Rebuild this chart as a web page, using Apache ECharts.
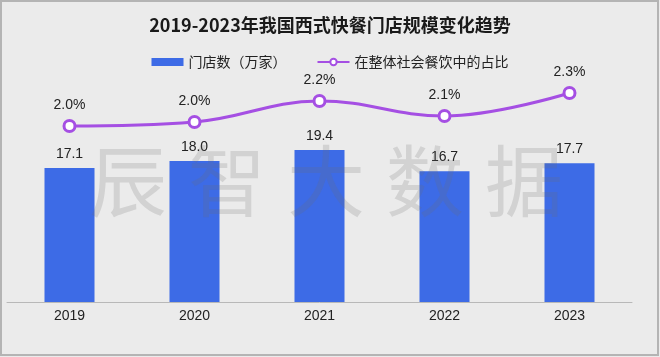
<!DOCTYPE html>
<html>
<head>
<meta charset="utf-8">
<script src="https://cdn.jsdelivr.net/npm/echarts@6/dist/echarts.min.js"></script>
<style>
html,body{margin:0;padding:0;background:#ebebeb;}
#c{width:660px;height:357px;}
</style>
</head>
<body>
<div id="c"></div>
<script>
var years = ['2019', '2020', '2021', '2022', '2023'];
var storeCounts = [17.1, 18.0, 19.4, 16.7, 17.7];
var shareValues = [1.96, 2.00, 2.21, 2.06, 2.29];
var titleText = '2019-2023年我国西式快餐门店规模变化趋势';
var barName = '门店数（万家）';
var lineName = '在整体社会餐饮中的占比';
var watermarkChars = ['辰', '智', '大', '数', '据'];

var chart = echarts.init(document.getElementById('c'), null, {renderer: 'canvas'});
var FONT = '"Noto Sans CJK SC", "Noto Sans", sans-serif';

var graphics = [{
  type: 'rect',
  shape: {x: 1, y: 1, width: 657, height: 354},
  style: {fill: 'none', stroke: '#b4b4b4', lineWidth: 2},
  z: 100,
  silent: true
}];
watermarkChars.forEach(function (ch, i) {
  graphics.push({
    type: 'text',
    x: 128 + 99 * i,
    y: 181,
    style: {
      text: ch,
      fill: 'rgba(110,110,110,0.2)',
      font: '78px ' + FONT,
      align: 'center',
      verticalAlign: 'middle'
    },
    z: 50,
    silent: true
  });
});

chart.setOption({
  backgroundColor: '#ebebeb',
  animation: false,
  title: {
    text: titleText,
    left: 'center',
    top: 11,
    textStyle: {fontSize: 18, fontWeight: 'bold', color: '#1a1a1a', fontFamily: FONT}
  },
  legend: {
    top: 50,
    left: 'center',
    itemWidth: 32,
    itemHeight: 8,
    itemGap: 30,
    textStyle: {fontSize: 14, color: '#222', fontFamily: FONT},
    data: [
      {name: barName, icon: 'rect'},
      {name: lineName}
    ]
  },
  grid: {left: 7, right: 28, top: 67, bottom: 55},
  xAxis: {
    type: 'category',
    data: years,
    axisLine: {lineStyle: {color: '#b8b8b8', width: 1}},
    axisTick: {show: false},
    axisLabel: {fontSize: 14, color: '#222', margin: 7, fontFamily: 'Liberation Sans, Arial, sans-serif'}
  },
  yAxis: [
    {type: 'value', min: 0, max: 30, show: false, splitLine: {show: false}},
    {type: 'value', min: 0.2, max: 2.55, show: false, splitLine: {show: false}}
  ],
  series: [
    {
      name: barName,
      type: 'bar',
      data: storeCounts,
      barWidth: 50,
      itemStyle: {color: '#3d6be6'},
      label: {
        show: true,
        position: 'top',
        distance: 7,
        fontSize: 14,
        color: '#222',
        fontFamily: 'Liberation Sans, Arial, sans-serif',
        formatter: function (p) { return p.value.toFixed(1); }
      },
      z: 2
    },
    {
      name: lineName,
      type: 'line',
      yAxisIndex: 1,
      data: shareValues,
      smooth: 0.4,
      symbol: 'circle',
      symbolSize: 11,
      lineStyle: {color: '#a54fe3', width: 3},
      itemStyle: {color: '#ffffff', borderColor: '#a54fe3', borderWidth: 3},
      label: {
        show: true,
        position: 'top',
        distance: 7,
        fontSize: 14,
        color: '#222',
        fontFamily: 'Liberation Sans, Arial, sans-serif',
        formatter: function (p) { return p.value.toFixed(1) + '%'; }
      },
      z: 3
    }
  ],
  graphic: graphics
});
</script>
</body>
</html>
